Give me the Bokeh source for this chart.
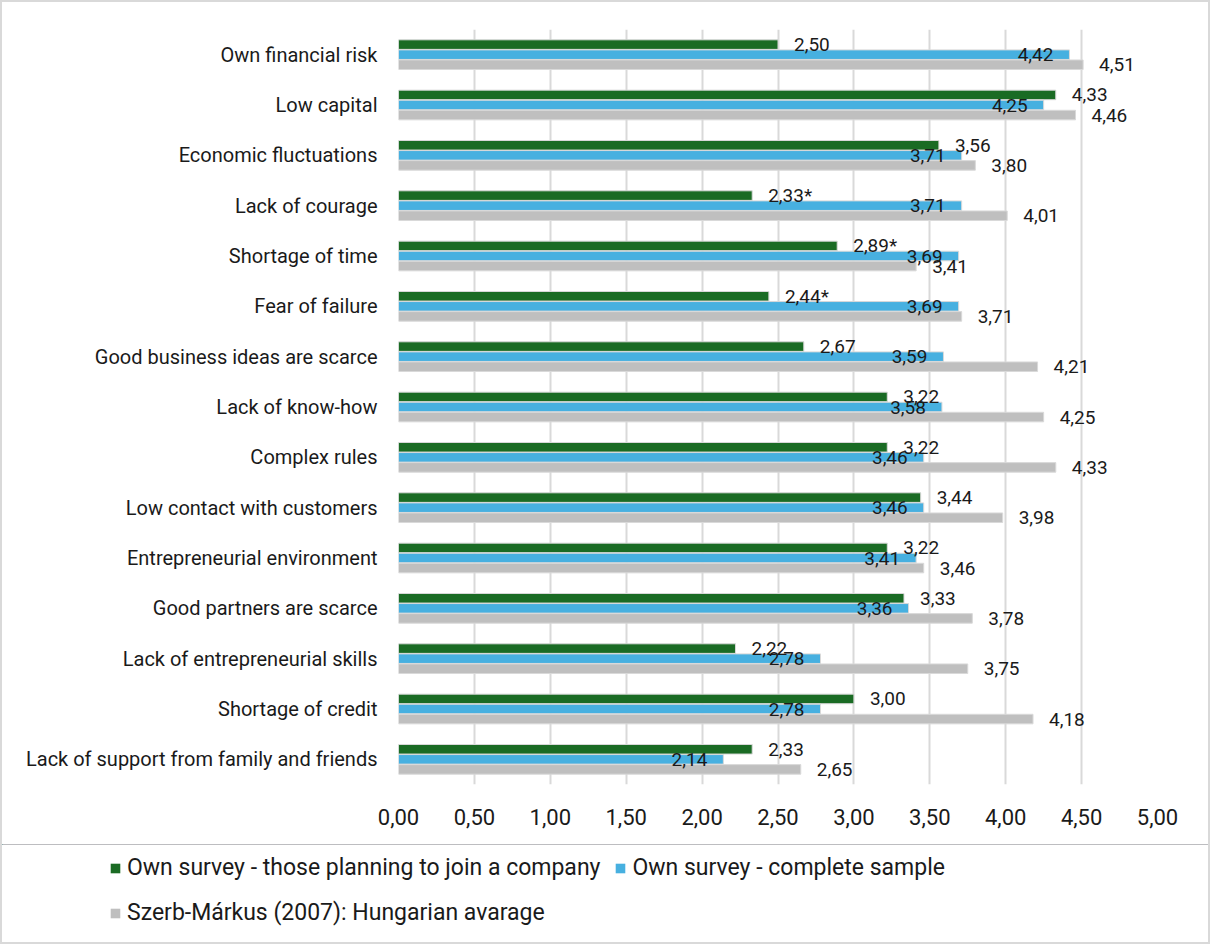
from bokeh.plotting import figure
from bokeh.layouts import column
from bokeh.models import FactorRange, Range1d, FixedTicker, ColumnDataSource, Legend, LegendItem
from bokeh.transform import dodge
from bokeh.core.properties import value
from bokeh.embed import file_html
from bokeh.resources import INLINE

categories = [
    "Own financial risk",
    "Low capital",
    "Economic fluctuations",
    "Lack of courage",
    "Shortage of time",
    "Fear of failure",
    "Good business ideas are scarce",
    "Lack of know-how",
    "Complex rules",
    "Low contact with customers",
    "Entrepreneurial environment",
    "Good partners are scarce",
    "Lack of entrepreneurial skills",
    "Shortage of credit",
    "Lack of support from family and friends",
]
planning_company = [2.50, 4.33, 3.56, 2.33, 2.89, 2.44, 2.67, 3.22, 3.22, 3.44, 3.22, 3.33, 2.22, 3.00, 2.33]
complete_sample = [4.42, 4.25, 3.71, 3.71, 3.69, 3.69, 3.59, 3.58, 3.46, 3.46, 3.41, 3.36, 2.78, 2.78, 2.14]
hungarian_avg = [4.51, 4.46, 3.80, 4.01, 3.41, 3.71, 4.21, 4.25, 4.33, 3.98, 3.46, 3.78, 3.75, 4.18, 2.65]
significant = [False, False, False, True, True, True, False, False, False, False, False, False, False, False, False]
series_names = [
    "Own survey - those planning to join a company",
    "Own survey - complete sample",
    "Szerb-M\u00e1rkus (2007): Hungarian avarage",
]
tick_values = [0.0, 0.5, 1.0, 1.5, 2.0, 2.5, 3.0, 3.5, 4.0, 4.5, 5.0]
tick_labels = ["0,00", "0,50", "1,00", "1,50", "2,00", "2,50", "3,00", "3,50", "4,00", "4,50", "5,00"]

GREEN = "#1a6b24"
BLUE = "#47b0e0"
GRAY = "#bfbfbf"
OUTLINE = "#d9d9d9"
FONT = "Roboto"
TXT = "#1a1a1a"
COLORS = [GREEN, BLUE, GRAY]


def fmt(v, star=False):
    return ("%.2f" % v).replace(".", ",") + ("*" if star else "")


src = ColumnDataSource(dict(
    cat=categories,
    a=planning_company,
    b=complete_sample,
    c=hungarian_avg,
    la=[fmt(v, s) for v, s in zip(planning_company, significant)],
    lb=[fmt(v) for v in complete_sample],
    lc=[fmt(v) for v in hungarian_avg],
))

p = figure(
    width=1206, height=842,
    y_range=FactorRange(factors=categories[::-1]),
    x_range=Range1d(0, 5),
    output_backend="svg", toolbar_location=None,
    min_border_left=396, min_border_right=51, min_border_top=27, min_border_bottom=60,
)
p.outline_line_color = None

p.xaxis.ticker = FixedTicker(ticks=tick_values)
p.xaxis.major_label_overrides = {v: l for v, l in zip(tick_values, tick_labels)}
for ax in (p.xaxis, p.yaxis):
    ax.axis_line_color = None
    ax.major_tick_line_color = None
    ax.minor_tick_line_color = None
    ax.major_label_text_font = FONT
    ax.major_label_text_color = TXT
p.xaxis.major_label_text_font_size = "22px"
p.xaxis.major_label_standoff = 18
p.yaxis.major_label_text_font_size = "20px"
p.yaxis.major_label_standoff = 15

p.xgrid.grid_line_color = OUTLINE
p.xgrid.grid_line_width = 2
p.ygrid.grid_line_color = None

offs = [0.2, 0.0, -0.2]
keys = ["a", "b", "c"]
lkeys = ["la", "lb", "lc"]
for off, col, k in zip(offs, COLORS, keys):
    p.hbar(y=dodge("cat", off, range=p.y_range), left=0, right=k, height=0.19,
           fill_color=col, line_color=OUTLINE, line_width=1, source=src)

for i, (off, k, lk) in enumerate(zip(offs, keys, lkeys)):
    inside = (i == 1)
    p.text(x=k, y=dodge("cat", off, range=p.y_range), text=lk, source=src,
           x_offset=-16 if inside else 16, text_align="right" if inside else "left",
           text_baseline="middle", text_font=value(FONT), text_font_size="19px",
           text_color=TXT)

# legend strip: its own frame spans the full width (no frame alignment with p)
p2 = figure(width=1206, height=98, x_range=Range1d(0, 1), y_range=Range1d(0, 1),
            output_backend="svg", toolbar_location=None,
            x_axis_location=None, y_axis_location=None,
            min_border_left=0, min_border_right=0, min_border_top=0, min_border_bottom=0)
p2.frame_align = False
p2.outline_line_color = None
p2.grid.visible = False
# legend keys only: same series with zero-height bars and no outline (nothing visible drawn)
key_r = [p2.hbar(y=k, left=0, right=k, height=0, fill_color=c, line_color=None,
                 source=src) for k, c in zip(keys, COLORS)]

common = dict(orientation="horizontal", padding=0, margin=0, spacing=14,
              glyph_width=12, glyph_height=12, label_standoff=6, label_height=26,
              border_line_color=None, background_fill_alpha=0,
              label_text_font=FONT, label_text_font_size="23px", label_text_color=TXT)
leg1 = Legend(items=[LegendItem(label=series_names[0], renderers=[key_r[0]]),
                     LegendItem(label=series_names[1], renderers=[key_r[1]])],
              location=(107, 61), **common)
leg2 = Legend(items=[LegendItem(label=series_names[2], renderers=[key_r[2]])],
              location=(107, 16), **common)
p2.add_layout(leg1)
p2.add_layout(leg2)

layout = column(p, p2, spacing=0, styles={"border": "2px solid #d9d9d9"})

open("out.html", "w").write(file_html(layout, INLINE))
